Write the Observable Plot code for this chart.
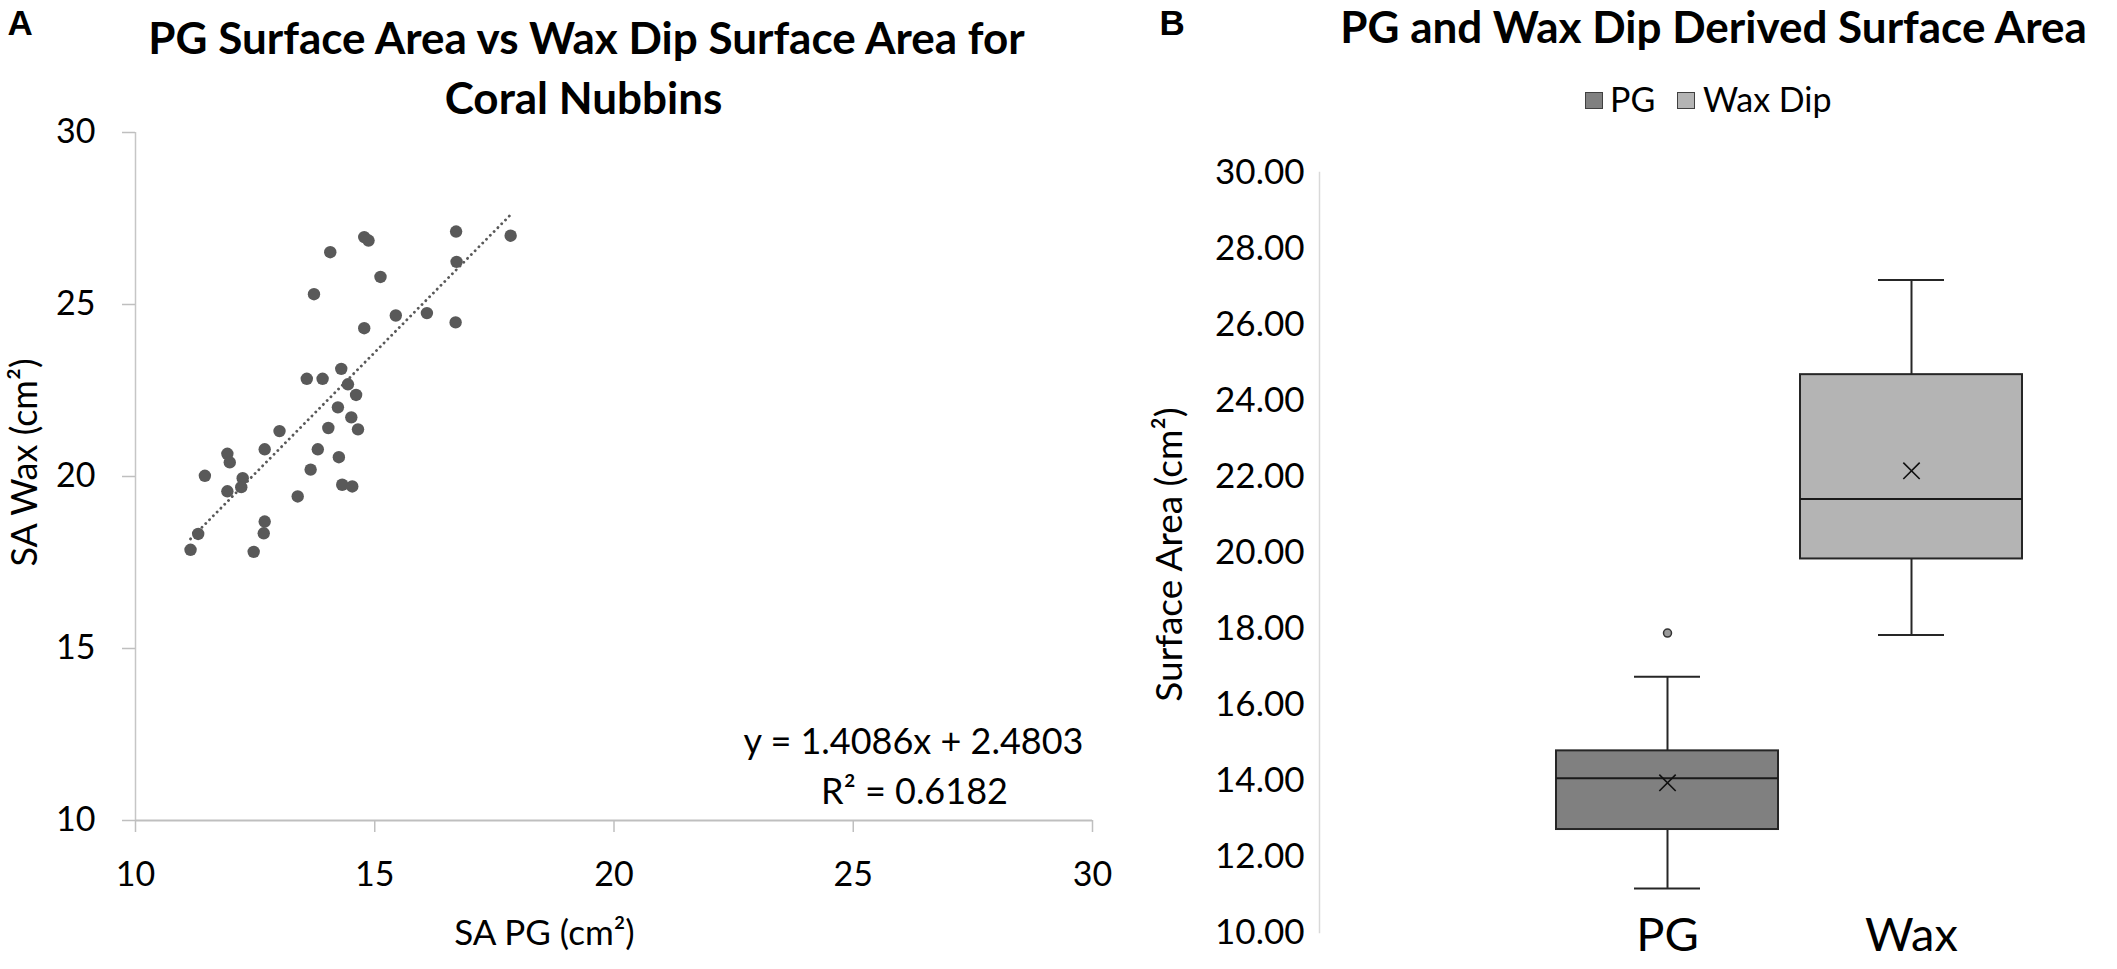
<!DOCTYPE html>
<html>
<head>
<meta charset="utf-8">
<script src="https://cdn.jsdelivr.net/npm/d3@7"></script>
<script src="https://cdn.jsdelivr.net/npm/@observablehq/plot@0.6"></script>
<style>
  html, body { margin: 0; padding: 0; background: #fff; }
  #wrap { position: relative; width: 2117px; height: 969px; overflow: hidden; background: #fff; font-family: Lato, sans-serif; }
  #wrap svg { position: absolute; top: 0; }
  .sw { position: absolute; box-sizing: border-box; border: 1.5px solid #404040; }
  .lt { position: absolute; font-family: Lato, sans-serif; font-size: 34px; line-height: 36px; color: #000; white-space: nowrap; }
</style>
</head>
<body>
<div id="wrap"></div>
<script>
// ---------- Panel A data ----------
const pgSA  = [11.15, 11.31, 11.45, 11.92, 11.97, 11.92, 12.24, 12.21, 12.70, 13.01,
               12.70, 12.68, 12.47, 13.39, 13.66, 13.81, 14.03, 13.58, 13.91, 14.30,
               14.44, 14.61, 14.23, 14.51, 14.65, 14.25, 14.32, 14.53, 13.73, 14.07,
               14.78, 14.87, 15.12, 14.78, 15.44, 16.09, 16.69, 16.70, 16.71, 17.84];
const waxSA = [17.87, 18.33, 20.02, 20.66, 20.41, 19.57, 19.95, 19.69, 20.79, 21.32,
               18.69, 18.35, 17.81, 19.42, 20.20, 20.79, 21.41, 22.84, 22.84, 23.13,
               22.68, 22.37, 22.01, 21.72, 21.37, 20.56, 19.76, 19.71, 25.30, 26.52,
               26.96, 26.86, 25.80, 24.31, 24.68, 24.75, 24.48, 27.12, 26.24, 27.00];
const trendSlope = 1.4086;
const trendIntercept = 2.4803;
const trendExtent = [11.15, 17.84];
const equationLines = ["y = 1.4086x + 2.4803", "R\u00B2 = 0.6182"];
const xTicksA = [10, 15, 20, 25, 30];
const yTicksA = [10, 15, 20, 25, 30];

// ---------- Panel B data (box plot summary) ----------
const groups   = ["PG", "Wax"];
const boxMin   = [11.16, 17.83];
const boxQ1    = [12.71, 19.83];
const boxMed   = [14.06, 21.41];
const boxQ3    = [14.78, 24.68];
const boxMax   = [16.73, 27.17];
const boxMean  = [13.94, 22.15];
const outlierGroup = ["PG"];
const outlierValue = [17.88];
const yTicksB  = [10, 12, 14, 16, 18, 20, 22, 24, 26, 28, 30];
const legendLabels = ["PG", "Wax Dip"];
const boxFills = ["#808080", "#b4b4b4"];

// ---------- tables ----------
const scatter = pgSA.map((x, i) => ({pg: x, wax: waxSA[i]}));
const trend = trendExtent.map(x => ({x, y: trendSlope * x + trendIntercept}));
const boxes = groups.map((g, i) => ({g, min: boxMin[i], q1: boxQ1[i], med: boxMed[i], q3: boxQ3[i], max: boxMax[i], mean: boxMean[i]}));
const outliers = outlierGroup.map((g, i) => ({g, v: outlierValue[i]}));

function note(frame, txt, x, y, o = {}) {
  return Plot.text([txt], {text: d => d, frameAnchor: "top-left", textAnchor: "middle", dx: x - frame.left, dy: y - frame.top, fill: "#000", ...o});
}

const TXT = "Lato, sans-serif";
const LETTER = {textAnchor: "start", lineAnchor: "bottom", fontFamily: "Liberation Sans, Arial, sans-serif", fontWeight: "bold", fontSize: 35};
const TITLE = {lineAnchor: "bottom", fontWeight: "bold", fontSize: 44};
const frameA = {left: 135, top: 132};
const plotA = Plot.plot({
  width: 1120, height: 969,
  marginLeft: 135, marginRight: 28, marginTop: 132, marginBottom: 149,
  x: {domain: [10, 30], axis: null},
  y: {domain: [10, 30], axis: null},
  style: {fontFamily: TXT, fontSize: "34px", color: "#000", background: "transparent", overflow: "visible"},
  marks: [
    Plot.ruleX([10], {stroke: "#c6c6c6", strokeWidth: 1.5}),
    Plot.ruleY([10], {stroke: "#bfbfbf", strokeWidth: 2}),
    Plot.axisY({ticks: yTicksA, tickSize: 13, tickPadding: 27, stroke: "#bfbfbf", strokeWidth: 1.5, fill: "#000", fontSize: 34, label: null}),
    Plot.axisX({ticks: xTicksA, tickSize: 12, tickPadding: 29, stroke: "#bfbfbf", strokeWidth: 1.5, fill: "#000", fontSize: 34, label: null}),
    Plot.line(trend, {x: "x", y: "y", stroke: "#595959", strokeWidth: 2.8, strokeDasharray: "0.1 5.3", strokeLinecap: "round"}),
    Plot.dot(scatter, {x: "pg", y: "wax", r: 6.2, fill: "#595959", stroke: null}),
    note(frameA, "A", 7, 34, LETTER),
    note(frameA, "PG Surface Area vs Wax Dip Surface Area for", 586, 53, TITLE),
    note(frameA, "Coral Nubbins", 583, 113, TITLE),
    note(frameA, "SA Wax (cm\u00B2)", 25, 462, {rotate: -90, lineAnchor: "middle", fontSize: 36}),
    note(frameA, "SA PG (cm\u00B2)", 544, 933, {lineAnchor: "middle", fontSize: 35}),
    note(frameA, equationLines[0], 913, 742, {lineAnchor: "middle", fontSize: 36}),
    note(frameA, equationLines[1], 914, 792, {lineAnchor: "middle", fontSize: 36})
  ]
});

const frameB = {left: 199, top: 172};
const plotB = Plot.plot({
  width: 997, height: 969,
  marginLeft: 199, marginRight: 94, marginTop: 172, marginBottom: 37,
  x: {domain: groups, range: [435.5, 903], paddingInner: 0.09, paddingOuter: 0, axis: null},
  y: {domain: [10, 30], axis: null},
  color: {domain: groups, range: boxFills},
  style: {fontFamily: TXT, fontSize: "35px", color: "#000", background: "transparent", overflow: "visible"},
  marks: [
    Plot.frame({anchor: "left", stroke: "#d9d9d9", strokeWidth: 1.5}),
    Plot.axisY({ticks: yTicksB, tickFormat: d3.format(".2f"), tickSize: 0, tickPadding: 15, fill: "#000", fontSize: 35, label: null}),
    Plot.ruleX(boxes, {x: "g", y1: "q3", y2: "max", stroke: "#262626", strokeWidth: 2}),
    Plot.ruleX(boxes, {x: "g", y1: "min", y2: "q1", stroke: "#262626", strokeWidth: 2}),
    Plot.tickY(boxes, {x: "g", y: "max", insetLeft: 78, insetRight: 78, stroke: "#262626", strokeWidth: 2}),
    Plot.tickY(boxes, {x: "g", y: "min", insetLeft: 78, insetRight: 78, stroke: "#262626", strokeWidth: 2}),
    Plot.barY(boxes, {x: "g", y1: "q1", y2: "q3", fill: "g", stroke: "#262626", strokeWidth: 2, insetLeft: 0, insetRight: 0}),
    Plot.tickY(boxes, {x: "g", y: "med", stroke: "#1a1a1a", strokeWidth: 2}),
    Plot.dot(boxes, {x: "g", y: "mean", symbol: "times", r: 7.5, stroke: "#111", strokeWidth: 1.6, fill: "none"}),
    Plot.dot(outliers, {x: "g", y: "v", r: 4, fill: "#9a9a9a", stroke: "#333", strokeWidth: 1.5}),
    Plot.text(groups, {x: d => d, text: d => d, frameAnchor: "bottom", dy: 3, lineAnchor: "middle", fontSize: 47, fill: "#000"}),
    note(frameB, "B", 39, 34, LETTER),
    note(frameB, "PG and Wax Dip Derived Surface Area", 593, 42, TITLE),
    note(frameB, "Surface Area (cm\u00B2)", 50, 554, {rotate: -90, lineAnchor: "middle", fontSize: 37})
  ]
});

const wrap = document.getElementById("wrap");
plotA.style.left = "0px";
plotB.style.left = "1120px";
wrap.appendChild(plotA);
wrap.appendChild(plotB);

// legend (HTML, above panel B)
const legendPos = [{sq: 1585, tx: 1610}, {sq: 1677, tx: 1703}];
legendLabels.forEach((lab, i) => {
  const s = document.createElement("div");
  s.className = "sw";
  s.style.left = legendPos[i].sq + "px";
  s.style.top = "92px";
  s.style.width = "18px";
  s.style.height = "17px";
  s.style.background = boxFills[i];
  wrap.appendChild(s);
  const t = document.createElement("div");
  t.className = "lt";
  t.style.left = legendPos[i].tx + "px";
  t.style.top = "81px";
  t.textContent = lab;
  wrap.appendChild(t);
});
</script>
</body>
</html>
